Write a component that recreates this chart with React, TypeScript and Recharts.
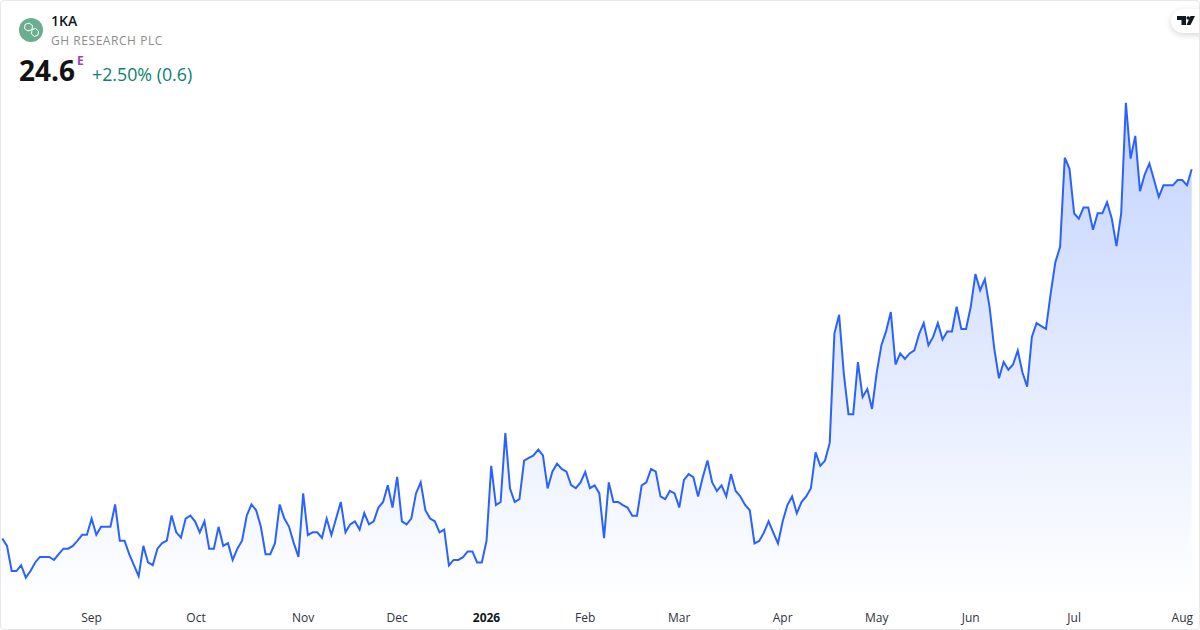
import { AreaChart, Area, XAxis, YAxis } from 'recharts';

// closes, roughly Aug to Nov / Nov to Feb / Feb to Apr / Apr to Jun / Jun to Aug
const closesA = [
  11.23, 10.96, 10.05, 10.05, 10.26, 9.81, 10.05, 10.36, 10.56, 10.56, 10.56, 10.45, 10.66, 10.86, 10.86, 10.96,
  11.15, 11.36, 11.36, 11.95, 11.36, 11.65, 11.65, 11.65, 12.46, 11.15, 11.15, 10.66, 10.26, 9.86, 10.96, 10.36,
  10.26, 10.86, 11.06, 11.15, 12.06, 11.45, 11.26, 11.95, 12.06, 11.85, 11.45, 11.85, 10.86, 10.86, 11.65, 10.96,
  11.06, 10.45, 10.86, 11.15, 12.06, 12.46, 12.25, 11.65, 10.66, 10.66, 11.06, 12.46, 11.95, 11.65, 11.06, 10.56,
];
const closesB = [
  12.86, 11.35, 11.45, 11.45, 11.25, 11.95, 11.35, 11.95, 12.55, 11.45, 11.74, 11.85, 11.55, 12.15, 11.74, 11.85,
  12.35, 12.55, 13.16, 12.35, 13.46, 11.85, 11.74, 11.95, 12.86, 13.26, 12.25, 11.95, 11.85, 11.45, 11.55, 10.25,
  10.45, 10.45, 10.55, 10.76, 10.76, 10.36, 10.36, 11.14, 13.86, 12.44, 12.55, 15.05, 13.04, 12.55, 12.65, 14.05,
  14.15, 14.24, 14.45, 14.24, 13.04, 13.65, 13.94, 13.75, 13.65, 13.16, 13.05, 13.26, 13.64, 13.05, 13.15, 12.86,
];
const closesC = [
  11.24, 13.26, 12.55, 12.55, 12.44, 12.35, 12.05, 12.05, 13.15, 13.26, 13.75, 13.65, 12.75, 12.65, 12.95, 12.86,
  12.35, 13.35, 13.56, 13.45, 12.75, 13.45, 14.05, 13.26, 12.95, 13.15, 12.75, 13.56, 12.95, 12.75, 12.44, 12.25,
  11.05, 11.14, 11.44, 11.85, 11.44, 11.05, 11.85, 12.44, 12.75, 12.14, 12.55, 12.75, 13.05, 14.35, 13.86, 14.05,
  14.69,
];
const closesD = [
  18.65, 19.33, 17.2, 15.73, 15.73, 17.62, 16.35, 16.64, 15.92, 17.24, 18.23, 18.74, 19.43, 17.53, 17.93, 17.73,
  17.93, 18.04, 18.63, 19.03, 18.23, 18.53, 19.03, 18.44, 18.73, 18.73, 19.62, 18.82, 18.82, 19.62, 20.81, 20.22,
  20.62, 19.62, 18.11, 17.03, 17.62, 17.34, 17.53, 18.04, 17.24, 16.73, 18.53, 19.03, 18.92, 18.82, 20.1,
];
const closesE = [
  21.24, 21.79, 25.02, 24.62, 23.0, 22.81, 23.22, 23.22, 22.41, 23.01, 23.01, 23.41, 22.82, 21.82, 23.0, 27.01,
  24.99, 25.81, 23.81, 24.41, 24.81, 24.21, 23.6, 24.02, 24.02, 24.02, 24.21, 24.21, 24.02, 24.6,
];

const closes = [...closesA, ...closesB, ...closesC, ...closesD, ...closesE];
const data = closes.map((close, i) => ({ i, close }));

const tickLabels = ['Sep', 'Oct', 'Nov', 'Dec', '2026', 'Feb', 'Mar', 'Apr', 'May', 'Jun', 'Jul', 'Aug'];
const tickIndex = [19, 41.2, 64, 84, 103, 124, 144, 166, 186, 206, 228, 251];

const FONT = '"Open Sans", sans-serif';

const MonthTick = ({ x, y, payload }: any) => {
  const label = tickLabels[tickIndex.indexOf(payload.value)];
  return (
    <text
      x={x}
      y={y}
      dy={14}
      textAnchor="middle"
      fontFamily={FONT}
      fontSize={12}
      fontWeight={label === '2026' ? 700 : 400}
      fill={label === '2026' ? '#131722' : '#2f3241'}
    >
      {label}
    </text>
  );
};

const abs = (left: number, top: number, extra: any) => ({
  position: 'absolute' as const,
  left,
  top,
  whiteSpace: 'nowrap' as const,
  fontFamily: FONT,
  ...extra,
});

export default function App() {
  return (
    <div style={{ position: 'absolute', left: 0, top: 0, width: 1200, height: 630, background: '#fff', overflow: 'hidden' }}>
      <AreaChart width={1200} height={630} data={data} margin={{ top: 60, right: 8.3, left: 2.3, bottom: 0 }}>
        <defs>
          <linearGradient id="fillClose" x1="0" y1="0" x2="0" y2="1">
            <stop offset="0%" stopColor="#2962FF" stopOpacity={0.28} />
            <stop offset="100%" stopColor="#2962FF" stopOpacity={0} />
          </linearGradient>
        </defs>
        <XAxis
          dataKey="i"
          type="number"
          domain={[0, closes.length - 1]}
          ticks={tickIndex}
          interval={0}
          tick={<MonthTick />}
          axisLine={false}
          tickLine={false}
          height={30}
        />
        <YAxis hide domain={[9, 28.56]} />
        <Area
          type="linear"
          dataKey="close"
          stroke="#2962FF"
          strokeWidth={2}
          fill="url(#fillClose)"
          fillOpacity={1}
          dot={false}
          activeDot={false}
          isAnimationActive={false}
        />
      </AreaChart>

      <svg width={24} height={24} style={{ position: 'absolute', left: 19, top: 18 }}>
        <circle cx={12} cy={12} r={12} fill="#6bae8f" />
        <path d="M6 6.5 L10 5 L13.5 7.5 L13 11.5 L9 13 L5.5 10.5 Z" fill="none" stroke="#fff" strokeWidth={1} />
        <path d="M13 11.5 L16.5 10.5 L19.5 13 L19 17 L15.5 18.5 L12.5 16 Z" fill="none" stroke="#fff" strokeWidth={1} />
      </svg>
      <div style={abs(51, 12, { fontSize: 14, lineHeight: '18px', fontWeight: 600, color: '#131722' })}>1KA</div>
      <div style={abs(51, 32, { fontSize: 12, lineHeight: '18px', letterSpacing: 0.55, color: '#8c8c8c' })}>GH RESEARCH PLC</div>
      <div style={abs(19, 52, { fontSize: 28, lineHeight: '37px', fontWeight: 700, color: '#131313' })}>24.6</div>
      <div style={abs(77, 53, { fontSize: 12, lineHeight: '16px', fontWeight: 700, color: '#9c3fc0' })}>E</div>
      <div style={abs(92, 62, { fontSize: 17.8, lineHeight: '25px', color: '#0b8170' })}>+2.50% (0.6)</div>

      <div style={{ position: 'absolute', left: 1171, top: 9, width: 44, height: 24, borderRadius: 12, background: '#fff', boxShadow: '0 2px 6px rgba(0,0,0,0.16)' }} />
      <svg width={20} height={12} style={{ position: 'absolute', left: 1176, top: 15 }}>
        <path d="M1 1 H10 V10 H5.5 V5 H1 Z" fill="#131722" />
        <circle cx={12.2} cy={3} r={1.8} fill="#131722" />
        <path d="M14.5 1 H19 L14.5 10 H10.5 Z" fill="#131722" />
      </svg>

      <div style={{ position: 'absolute', left: 0, top: 0, width: 1198, height: 628, border: '1px solid #e8e8e8', borderRadius: 4 }} />
    </div>
  );
}
